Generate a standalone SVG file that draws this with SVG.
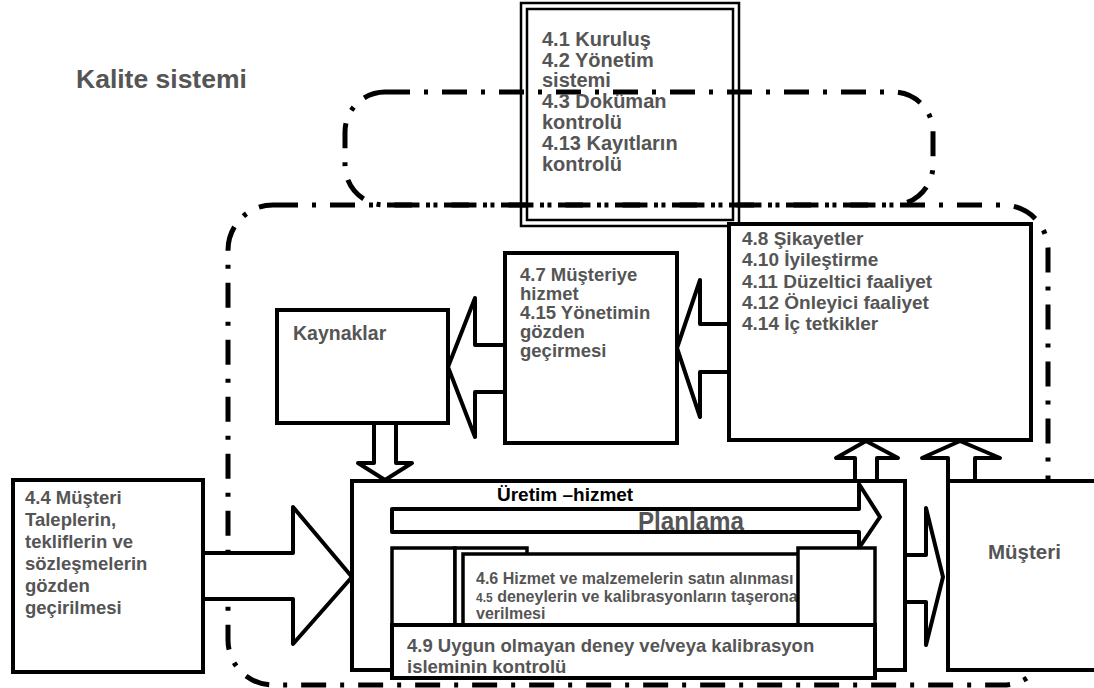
<svg xmlns="http://www.w3.org/2000/svg" width="1094" height="688" viewBox="0 0 1094 688">
<style>
.box{fill:#fff;stroke:#000;stroke-width:4}
.ib{fill:#fff;stroke:#000;stroke-width:3.5}
.dbl{fill:none;stroke:#000;stroke-width:2.5}
.arr{fill:#fff;stroke:#000;stroke-width:4;stroke-linejoin:round}
.dd{fill:none;stroke:#000;stroke-width:5;stroke-dasharray:25 14 4 14}
.t{font-family:"Liberation Sans",Arial,sans-serif;font-weight:bold;fill:#555;font-size:18.5px}
</style>
<rect width="1094" height="688" fill="#fff"/>
<text class="t" x="76" y="88" style="font-size:26.5px">Kalite sistemi</text>
<g id="frames">
<rect class="dd" x="345" y="92" width="588" height="113" rx="40"/>
<rect class="dd" x="228" y="205" width="820" height="480" rx="45"/>
</g>
<g id="connectors">
<path class="arr" d="M727,324 H700 V280 L677,348 L700,417 V372 H727"/>
<path class="arr" d="M505,345 H475 V298 L448,367 L475,437 V392 H505"/>
<path class="arr" d="M374,423 V463 H358 L385,480 L412,463 H396 V423"/>
<path class="arr" d="M203,553 H293 V507 L352,577 L293,644 V599 H203"/>
<path class="arr" d="M905,555 H926 V508 L943,577 L926,645 V602 H905"/>
<path class="arr" d="M855,481 V458 H836 L866,441 L898,458 H877 V481"/>
<path class="arr" d="M948,481 V458 H922 L960,441 L1000,458 H975 V481"/>
</g>
<g id="top-box">
<rect x="521" y="3" width="218" height="223" fill="#fff" class="dbl"/>
<rect x="527" y="9" width="206" height="211" class="dbl"/>
<text class="t" style="font-size:20px"><tspan x="542" y="46">4.1 Kuruluş</tspan><tspan x="542" y="67">4.2 Yönetim</tspan><tspan x="542" y="87">sistemi</tspan><tspan x="542" y="108">4.3 Doküman</tspan><tspan x="542" y="129">kontrolü</tspan><tspan x="542" y="150">4.13 Kayıtların</tspan><tspan x="542" y="171">kontrolü</tspan></text>
</g>
<g id="sikayetler">
<rect class="box" x="729" y="224" width="302" height="216"/>
<text class="t" style="font-size:19px"><tspan x="742" y="245">4.8 Şikayetler</tspan><tspan x="742" y="266">4.10 İyileştirme</tspan><tspan x="742" y="288">4.11 Düzeltici faaliyet</tspan><tspan x="742" y="309">4.12 Önleyici faaliyet</tspan><tspan x="742" y="330">4.14 İç tetkikler</tspan></text>
</g>
<g id="musteriye-hizmet">
<rect class="box" x="505" y="253" width="172" height="190"/>
<text class="t"><tspan x="520" y="281">4.7 Müşteriye</tspan><tspan x="520" y="300">hizmet</tspan><tspan x="520" y="319">4.15 Yönetimin</tspan><tspan x="520" y="338">gözden</tspan><tspan x="520" y="357">geçirmesi</tspan></text>
</g>
<g id="kaynaklar">
<rect class="box" x="277" y="310" width="171" height="113"/>
<text class="t" x="293" y="340" style="font-size:19.5px">Kaynaklar</text>
</g>
<g id="musteri-talepleri">
<rect class="box" x="13" y="480" width="190" height="192"/>
<text class="t"><tspan x="25" y="504">4.4 Müşteri</tspan><tspan x="25" y="526">Taleplerin,</tspan><tspan x="25" y="548">tekliflerin ve</tspan><tspan x="25" y="570">sözleşmelerin</tspan><tspan x="25" y="592">gözden</tspan><tspan x="25" y="614">geçirilmesi</tspan></text>
</g>
<g id="musteri">
<rect class="box" x="948" y="481" width="150" height="189"/>
<text class="t" x="988" y="559" style="font-size:20.5px">Müşteri</text>
</g>
<g id="uretim">
<rect class="box" x="352" y="481" width="553" height="189"/>
<text x="497" y="501" style="font-family:'Liberation Sans',Arial,sans-serif;font-weight:bold;font-size:19px;fill:#000">Üretim –hizmet</text>
<path class="arr" d="M392,509 H859 V484 L880,517 L859,548 V532 H392 Z"/>
<text class="t" x="638" y="530" style="font-size:26px" textLength="106" lengthAdjust="spacingAndGlyphs">Planlama</text>
<rect class="ib" x="392" y="548" width="63" height="80"/>
<rect class="ib" x="455" y="548" width="72" height="80"/>
<rect class="ib" x="463" y="554" width="336" height="74"/>
<text class="t" style="font-size:16px"><tspan x="476" y="584">4.6 Hizmet ve malzemelerin satın alınması</tspan><tspan x="476" y="602"><tspan style="font-size:12px">4.5</tspan> deneylerin ve kalibrasyonların taşerona</tspan><tspan x="476" y="619">verilmesi</tspan></text>
<rect class="ib" x="798" y="548" width="77" height="80"/>
<rect class="box" x="392" y="625" width="483" height="53"/>
<text class="t"><tspan x="407" y="652">4.9 Uygun olmayan deney ve/veya kalibrasyon</tspan><tspan x="407" y="673">isleminin kontrolü</tspan></text>
</g>
</svg>
